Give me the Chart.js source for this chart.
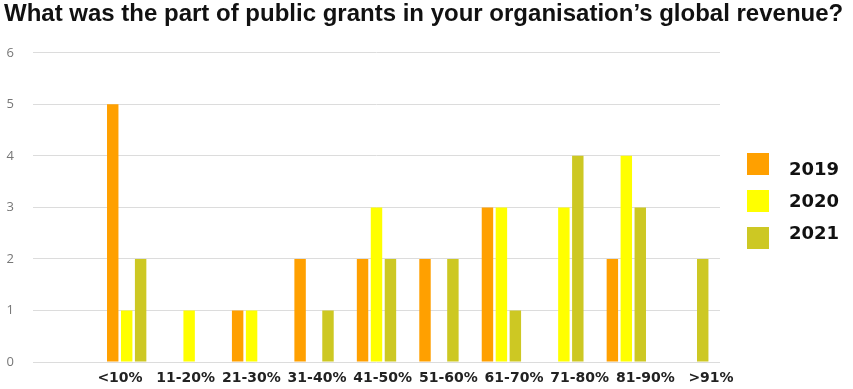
<!DOCTYPE html>
<html>
<head>
<meta charset="utf-8">
<script src="https://cdn.jsdelivr.net/npm/chart.js@4.4.1/dist/chart.umd.min.js"></script>
<style>
  html, body { margin: 0; padding: 0; background: #fff; }
  #wrap { width: 853px; height: 389px; }
</style>
</head>
<body>
<div id="wrap"><canvas id="c" width="853" height="389"></canvas></div>
<script>
const categories = ['<10%', '11-20%', '21-30%', '31-40%', '41-50%', '51-60%', '61-70%', '71-80%', '81-90%', '>91%'];
const years = ['2019', '2020', '2021'];
const values2019 = [5, 0, 1, 2, 2, 2, 3, 0, 2, 0];
const values2020 = [1, 1, 1, 0, 3, 0, 3, 3, 4, 0];
const values2021 = [2, 0, 0, 1, 2, 2, 1, 4, 3, 2];
const yTicks = [0, 1, 2, 3, 4, 5, 6];
const colors = ['#FFA000', '#FFFF00', '#CDC823'];

// a blank leading slot leaves empty room between the value axis and the first group
const labels = [''].concat(categories);
const series = [values2019, values2020, values2021];

const datasets = series.map((vals, i) => ({
  label: years[i],
  data: [null].concat(vals),
  backgroundColor: colors[i],
  borderWidth: 0,
  categoryPercentage: 0.67,
  barPercentage: 0.82
}));

// legend drawn to the right of the plot: large square swatches, bold years in a tighter column
const sideLegend = {
  id: 'sideLegend',
  afterDraw(chart) {
    const ctx = chart.ctx;
    const area = chart.chartArea;
    const box = 22, boxStep = 37, textStep = 32;
    const x0 = area.right + 27;
    const yMid = 201;
    const n = chart.data.datasets.length;
    ctx.save();
    ctx.font = 'bold 18px "DejaVu Sans"';
    ctx.textBaseline = 'middle';
    chart.data.datasets.forEach((ds, i) => {
      const k = i - (n - 1) / 2;
      const by = yMid + k * boxStep;
      ctx.fillStyle = ds.backgroundColor;
      ctx.fillRect(x0, by - box / 2, box, box);
      ctx.fillStyle = '#111';
      ctx.fillText(ds.label, x0 + box + 20, yMid + k * textStep + 1);
    });
    ctx.restore();
  }
};

new Chart(document.getElementById('c'), {
  type: 'bar',
  data: { labels, datasets },
  plugins: [sideLegend],
  options: {
    responsive: false,
    animation: false,
    layout: { padding: { left: 4, right: 0, top: 0, bottom: 0 } },
    plugins: {
      title: {
        display: true,
        text: 'What was the part of public grants in your organisation\u2019s global revenue?',
        align: 'start',
        color: '#111',
        font: { family: 'Liberation Sans', size: 24, weight: 'bold' },
        padding: { top: 0, bottom: 24 }
      },
      legend: { display: false },
      tooltip: { enabled: false }
    },
    scales: {
      x: { display: false },
      // category names sit on their own axis, spread a little wider than the bar groups
      names: {
        type: 'linear',
        position: 'bottom',
        offset: false,
        min: -1.325,
        max: 9.137,
        afterBuildTicks: (axis) => { axis.ticks = categories.map((c, i) => ({ value: i })); },
        afterFit: (axis) => { axis.height = 27; },
        grid: { display: false },
        border: { display: false },
        ticks: {
          color: '#222',
          autoSkip: false,
          maxRotation: 0,
          padding: 0,
          callback: (v) => categories[v],
          font: { family: 'DejaVu Sans', size: 14, weight: 'bold' }
        }
      },
      y: {
        min: yTicks[0],
        max: yTicks[yTicks.length - 1],
        afterBuildTicks: (axis) => { axis.ticks = yTicks.map(v => ({ value: v })); },
        afterFit: (axis) => { axis.width = 29; },
        grid: { color: '#dcdcdc', lineWidth: 1, drawTicks: false },
        border: { display: false },
        ticks: {
          color: '#777',
          padding: 19,
          font: { family: 'Open Sans', size: 13 }
        }
      },
      // empty right-hand strip that holds the legend
      side: {
        type: 'linear',
        position: 'right',
        afterFit: (axis) => { axis.width = 133; },
        grid: { display: false },
        border: { display: false },
        ticks: { display: false }
      }
    }
  }
});
</script>
</body>
</html>
